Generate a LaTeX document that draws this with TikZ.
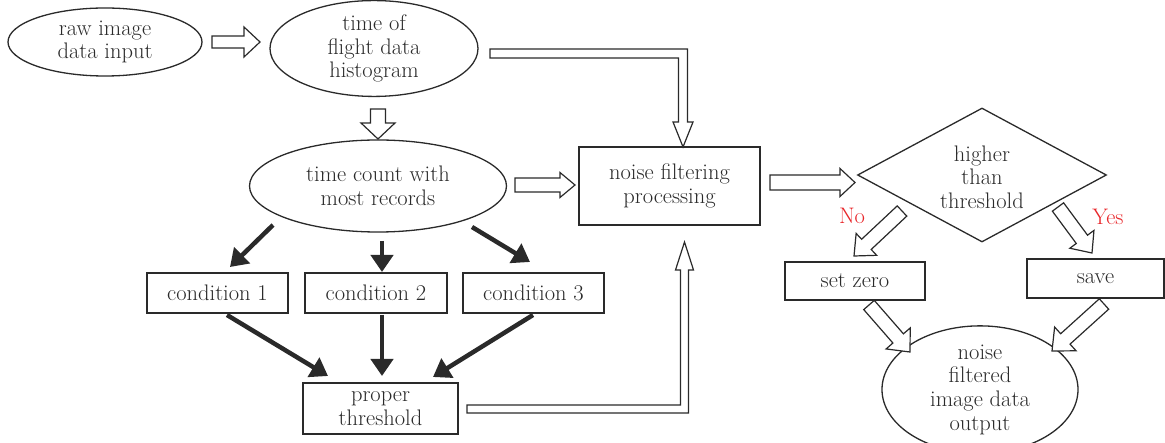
\documentclass[tikz,border=0pt]{standalone}
\usetikzlibrary{calc,arrows.meta,shapes.geometric}
\definecolor{ink}{HTML}{2A2A2A}
\definecolor{lbl}{HTML}{E8262A}
\tikzset{
  every node/.style={font=\fontsize{22.5}{23.7}\selectfont, text=ink, align=center, inner sep=0pt},
  ell/.style={draw=ink, line width=1.3pt, ellipse},
  box/.style={draw=ink, line width=1.3pt, rectangle},
  dia/.style={draw=ink, line width=1.3pt, diamond},
  hollow/.style={draw=ink, line width=1.2pt, fill=white, line join=miter},
  thick arrow/.style={draw=ink, line width=4.5pt, -{Triangle[length=17pt,width=22pt]}},
  yn/.style={text=lbl}
}
\newcommand\harrow[5]{%
  \coordinate (hC) at ($(#2)!#5!(#1)$);
  \draw[hollow] ($(#1)!#3!90:(#2)$) -- ($(hC)!#3!-90:(#1)$) -- ($(hC)!#4!-90:(#1)$) -- (#2)
    -- ($(hC)!#4!90:(#1)$) -- ($(hC)!#3!90:(#1)$) -- ($(#1)!#3!-90:(#2)$) -- cycle;}
\begin{document}
\begin{tikzpicture}[x=1pt, y=-1pt]
\useasboundingbox (0,0) rectangle (1165,443);
% nodes
\node[ell, minimum width=194pt, minimum height=68pt] (raw) at (105,42) {raw image\\data input};
\node[ell, minimum width=208pt, minimum height=87pt] (hist) at (374,48.5) {time of\\flight data\\histogram};
\node[ell, minimum width=257pt, minimum height=92pt] (cnt) at (378,186) {time count with\\most records};
\node[box, minimum width=181pt, minimum height=78pt] (nfp) at (669.5,186) {noise filtering\\processing};
\node[dia, minimum width=249pt, minimum height=134pt, aspect=1.86] (hi) at (982,175) {};
\node at (982,177) {higher\\than\\threshold};
\node[box, minimum width=141pt, minimum height=40pt] (c1) at (217.5,293) {condition 1};
\node[box, minimum width=142pt, minimum height=40pt] (c2) at (376,293) {condition 2};
\node[box, minimum width=141pt, minimum height=40pt] (c3) at (533.5,293) {condition 3};
\node[box, minimum width=155pt, minimum height=51pt] (pt) at (380.5,408.5) {proper\\threshold};
\node[box, minimum width=140pt, minimum height=38pt] (sz) at (855,281) {set zero};
\node[box, minimum width=137pt, minimum height=39pt] (sv) at (1095.5,278.5) {save};
\node[ell, minimum width=196pt, minimum height=105pt] (out) at (980,389.5) {noise\\filtered\\image data\\output};
\node[yn] (no) at (852,216) {No};
\node[yn] (yes) at (1108,217) {Yes};
% hollow arrow end points
\coordinate (a1s) at (212,42);  \coordinate (a1e) at (260,42);
\coordinate (a2s) at (378,109); \coordinate (a2e) at (378,139);
\coordinate (a3s) at (515,185); \coordinate (a3e) at (575,185);
\coordinate (a4s) at (770,182.5); \coordinate (a4e) at (855,182.5);
\coordinate (a5s) at (902,211); \coordinate (a5e) at (854,256);
\coordinate (a6s) at (1058,207); \coordinate (a6e) at (1092,253);
\coordinate (a7s) at (869,305); \coordinate (a7e) at (910,352);
\coordinate (a8s) at (1104,304); \coordinate (a8e) at (1052,351);
\harrow{a1s}{a1e}{6pt}{15pt}{16pt}
\harrow{a2s}{a2e}{7.5pt}{17pt}{16pt}
\harrow{a3s}{a3e}{7pt}{12.5pt}{15pt}
\harrow{a4s}{a4e}{7.5pt}{14pt}{15pt}
\harrow{a5s}{a5e}{7pt}{15pt}{17pt}
\harrow{a6s}{a6e}{7pt}{15pt}{17pt}
\harrow{a7s}{a7e}{7pt}{16pt}{18pt}
\harrow{a8s}{a8e}{7pt}{16pt}{18pt}
% bent double connectors
\draw[hollow] (490,49) -- (687.5,49) -- (687.5,122) -- (693,122) -- (683,147) -- (673,122)
  -- (678.5,122) -- (678.5,58) -- (490,58) -- cycle;
\draw[hollow] (467,413) -- (688.5,413) -- (688.5,270) -- (693.5,270) -- (684.5,242) -- (675.5,270)
  -- (680.5,270) -- (680.5,405) -- (467,405) -- cycle;
% thick black arrows
\coordinate (t1s) at (273,225); \coordinate (t1e) at (230,267);
\coordinate (t2s) at (382,241); \coordinate (t2e) at (382,272);
\coordinate (t3s) at (472,227); \coordinate (t3e) at (530,262);
\coordinate (t4s) at (227,315); \coordinate (t4e) at (328,376);
\coordinate (t5s) at (382,315); \coordinate (t5e) at (382,376);
\coordinate (t6s) at (533,315); \coordinate (t6e) at (433,377);
\draw[thick arrow] (t1s) -- (t1e);
\draw[thick arrow] (t2s) -- (t2e);
\draw[thick arrow] (t3s) -- (t3e);
\draw[thick arrow] (t4s) -- (t4e);
\draw[thick arrow] (t5s) -- (t5e);
\draw[thick arrow] (t6s) -- (t6e);
\end{tikzpicture}
\end{document}
